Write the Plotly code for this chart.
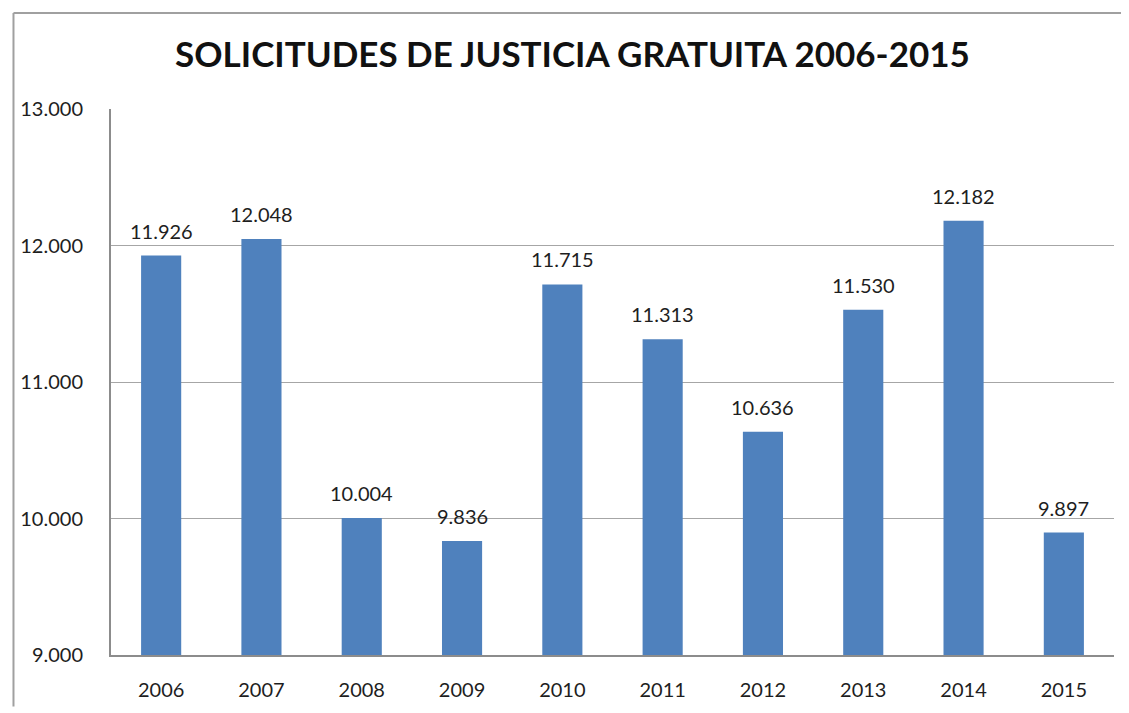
import plotly.graph_objects as go

years = ["2006", "2007", "2008", "2009", "2010", "2011", "2012", "2013", "2014", "2015"]
solicitudes = [11926, 12048, 10004, 9836, 11715, 11313, 10636, 11530, 12182, 9897]
y_ticks = [9000, 10000, 11000, 12000, 13000]

# page is offset by the 8px body margin
OFF = 8
W, H = 1129 - OFF, 713 - OFF
L, T = 106 - OFF, 109 - OFF
R = W - (1114 - OFF)
B = H - (661 - OFF)
pw, ph = W - L - R, H - T - B

def px(x):
    return (x - OFF - L) / pw

def py(y):
    return (H - B - (y - OFF)) / ph

FONT = "Lato, Open Sans, sans-serif"
TXT = "#1e1e1e"

fig = go.Figure(go.Bar(
    x=years, y=solicitudes,
    marker=dict(color="#4F81BD", line=dict(width=0)),
    hoverinfo="x+y",
))

# category positions by index (numeric-looking strings would be read as indices)
for i, v in enumerate(solicitudes):
    fig.add_annotation(x=i, y=v, text=f"{v:,}".replace(",", "."), showarrow=False,
                       yanchor="bottom", yshift=11,
                       font=dict(family=FONT, size=20, color=TXT))

fig.update_layout(
    width=W, height=H,
    margin=dict(l=L, r=R, t=T, b=B),
    paper_bgcolor="white", plot_bgcolor="white",
    separators=",.",
    bargap=0.6,
    showlegend=False,
    title=dict(text="<b>SOLICITUDES DE JUSTICIA GRATUITA 2006-2015</b>",
               x=(572.5 - OFF) / W, xanchor="center", y=1 - (55 - OFF) / H, yanchor="middle",
               font=dict(family=FONT, size=35, color="#111111")),
    xaxis=dict(type="category", range=[-0.5, len(years) - 0.5],
               showgrid=False, showline=True, linecolor="#8c8c8c", linewidth=2,
               ticks="", ticklabelstandoff=16,
               tickfont=dict(family=FONT, size=20, color=TXT)),
    yaxis=dict(range=[9000, 13000], tickvals=y_ticks, tickformat=",d",
               showgrid=True, gridcolor="#a6a6a6", gridwidth=1.3,
               showline=True, linecolor="#8c8c8c", linewidth=2, zeroline=False,
               ticks="", ticklabelstandoff=22,
               tickfont=dict(family=FONT, size=20, color=TXT)),
    shapes=[
        dict(type="line", xref="paper", yref="paper", x0=px(8), x1=px(8), y0=py(12), y1=py(713),
             line=dict(color="#a0a0a0", width=2)),
        dict(type="line", xref="paper", yref="paper", x0=px(8), x1=px(1129), y0=py(12), y1=py(12),
             line=dict(color="#a0a0a0", width=2)),
    ],
)

fig.write_html("out.html")
